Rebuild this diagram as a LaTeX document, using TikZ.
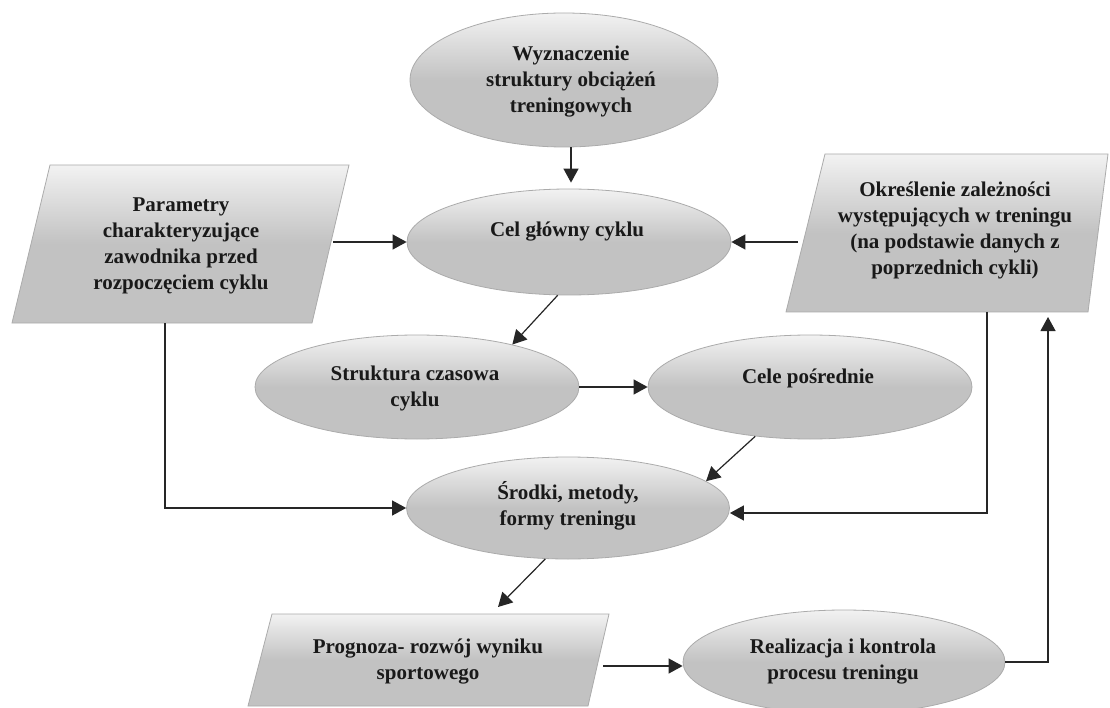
\documentclass[tikz,border=0pt]{standalone}
\usepackage{fontspec}
\setmainfont{Liberation Serif}
\usetikzlibrary{arrows.meta,shapes.geometric}
\definecolor{gtop}{HTML}{F2F2F2}
\definecolor{gbot}{HTML}{C2C2C2}
\definecolor{edgegray}{HTML}{ABABAB}
\begin{document}
\begin{tikzpicture}[x=1pt,y=-1pt,
  ell/.style={ellipse, draw=edgegray, line width=0.8pt, top color=gtop, bottom color=gbot, middle color=gbot, inner sep=0pt},
  quad/.style={draw=edgegray, line width=0.8pt, top color=gtop, bottom color=gbot, middle color=gbot},
  txt/.style={font=\bfseries\fontsize{21}{26}\selectfont, align=center, inner sep=0pt, text=black!90},
  arr/.style={-{Triangle[length=14pt,width=15pt]}, line width=1.2pt, black!85}
]
\useasboundingbox[fill=white] (0,0) rectangle (1110,708);

% shapes
\node[ell, minimum width=308pt, minimum height=134pt] (wyz) at (564,80) {};
\node[ell, minimum width=324pt, minimum height=106pt] (cel) at (569,242) {};
\node[ell, minimum width=324pt, minimum height=104pt] (str) at (417,387) {};
\node[ell, minimum width=324pt, minimum height=104pt] (cele) at (810,387) {};
\node[ell, minimum width=323pt, minimum height=102pt] (srd) at (568,508) {};
\node[ell, minimum width=322pt, minimum height=104pt] (real) at (844,662) {};

\shade[quad] (50,165) -- (349,165) -- (312,323) -- (12,323) -- cycle;
\shade[quad] (825,154) -- (1108,154) -- (1088,312) -- (786,312) -- cycle;
\shade[quad] (272,614) -- (609,614) -- (588,706) -- (248,706) -- cycle;

% texts
\node[txt] (wyzT) at (571,82) {Wyznaczenie\\struktury obciążeń\\treningowych};
\node[txt] (celT) at (567,232) {Cel główny cyklu};
\node[txt] (parT) at (181,246) {Parametry\\charakteryzujące\\zawodnika przed\\rozpoczęciem cyklu};
\node[txt] (okrT) at (955,230) {Określenie zależności\\występujących w treningu\\(na podstawie danych z\\poprzednich cykli)};
\node[txt] (strT) at (415,388) {Struktura czasowa\\cyklu};
\node[txt] (celeT) at (808,378) {Cele pośrednie};
\node[txt] (srdT) at (568,506) {Środki, metody,\\formy treningu};
\node[txt] (progT) at (428,662) {Prognoza- rozwój wyniku\\sportowego};
\node[txt] (realT) at (843,662) {Realizacja i kontrola\\procesu treningu};

% connector end points on the quadrilaterals
\coordinate (parR) at (333,242);
\coordinate (parB) at (165,323);
\coordinate (okrL) at (798,242);
\coordinate (okrB) at (987,312);
\coordinate (okrIn) at (1048,317);
\coordinate (progTop) at (498,607);
\coordinate (progR) at (603,666);

% connectors
\draw[arr] ([xshift=7pt]wyz.south) -- ([xshift=2pt,yshift=6pt]cel.north);
\draw[arr] (parR) -- (cel.west);
\draw[arr] (okrL) -- (cel.east);
\draw[arr] (cel.-102) -- (str.24.5);
\draw[arr] (str.east) -- (cele.west);
\draw[arr] (cele.-138.7) -- (srd.11);
\draw[arr] (parB) |- (srd.west);
\draw[arr] (okrB) |- ([yshift=-5pt]srd.east);
\draw[arr] (srd.-114) -- (progTop);
\draw[arr] (progR) -- (progR -| real.west);
\draw[arr] (real.east) -| (okrIn);
\end{tikzpicture}
\end{document}
